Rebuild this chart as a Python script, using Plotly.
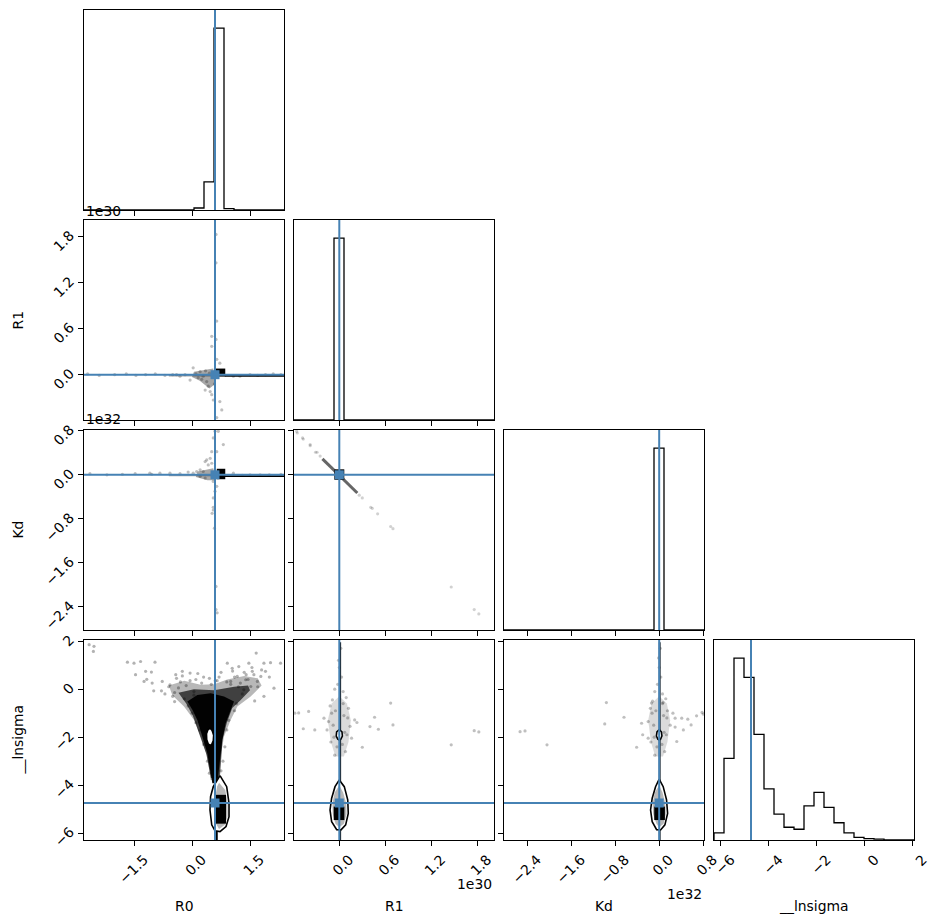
import numpy as np
import plotly.graph_objects as go

# ---------------- data (R1 in units of 1e30, Kd in units of 1e32) ----------------
PARAM_NAMES = ["R0", "R1", "Kd", "__lnsigma"]
RANGES = [[-2.793, 2.379], [-0.591, 2.018], [-2.822, 0.815], [-6.28, 2.045]]
TRUTHS = [0.595, 0.0, 0.0, -4.74]
TICK_VALS = [[-1.5, 0.0, 1.5], [0.0, 0.6, 1.2, 1.8], [-2.4, -1.6, -0.8, 0.0, 0.8], [-6, -4, -2, 0, 2]]
TICK_TEXT = [["−1.5", "0.0", "1.5"], ["0.0", "0.6", "1.2", "1.8"],
             ["−2.4", "−1.6", "−0.8", "0.0", "0.8"], ["−6", "−4", "−2", "0", "2"]]
OFFSET_TEXT = ["", "1e30", "1e32", ""]

# 1-D histogram counts (20 bins spanning each range)
HIST_R0 = [0, 0, 0, 0, 0, 0, 0, 0, 0, 0, 0, 60, 845, 5450, 44, 0, 0, 0, 0, 0]
HIST_R1 = [0, 0, 0, 12, 6370, 10, 3, 0, 0, 0, 0, 0, 0, 0, 0, 0, 0, 0, 0, 0]
HIST_KD = [0, 0, 0, 0, 0, 0, 0, 0, 0, 0, 0, 0, 0, 0, 14, 6380, 4, 0, 0, 0]
HIST_LN = [59, 667, 1485, 1329, 863, 417, 212, 104, 88, 278, 389, 267, 141, 59, 22, 12, 7, 0, 0, 0]
HISTS = [HIST_R0, HIST_R1, HIST_KD, HIST_LN]

# ---- panel R0 vs R1 ----
R0R1_PTS_X = [0.62, 0.62, 0.64, 0.51, 0.51, 0.64, 0.72, 0.03, 0.21, 0.29, -0.05, 0.16, 0.38, 0.34, 0.42,
              0.47, 0.51, 0.72, 0.77, 0.55, 0.64, 0.62, -0.31, -0.40, -0.18, 1.07, 1.24,
              -2.7, -2.4, -2.0, -1.7, -1.45, -1.2, -0.95, -0.7, -0.5, 1.5, 1.7, 1.9, 2.1, 2.3,
              0.45, 0.25, 0.10, 0.58, 0.35]
R0R1_PTS_Y = [1.83, 1.46, 0.70, 0.50, 0.37, 0.20, 0.15, 0.09, 0.04, -0.02, -0.07, -0.04, -0.09, -0.20, -0.15,
              -0.22, -0.26, -0.35, -0.46, -0.33, -0.56, 0.46, -0.02, 0.0, 0.0, -0.02, -0.02,
              0.01, -0.01, 0.0, 0.01, -0.01, 0.0, 0.01, -0.01, 0.0, 0.0, -0.01, 0.0, 0.01, 0.0,
              0.02, -0.06, 0.01, -0.12, 0.05]
R0R1_HALO_X = [0.05, 0.55, 0.60, 0.45, 0.20, 0.0]
R0R1_HALO_Y = [0.04, 0.08, -0.12, -0.18, -0.08, -0.03]
R0R1_CELL_X = [0.60, 0.86, 0.86, 0.60]
R0R1_CELL_Y = [-0.025, -0.025, 0.08, 0.08]
R0R1_LINE_X = [0.85, 2.38]
R0R1_LINE_Y = [-0.015, -0.015]

# ---- panel R0 vs Kd ----
R0KD_PTS_X = [0.595, 0.68, 0.55, 0.81, 0.51, 0.64, 0.47, 0.38, 0.51, 0.42, 0.34, 0.21, 0.12, 0.29, 0.03,
              0.21, 0.34, 0.55, 0.64, 0.595, 0.55, 0.55, 0.52, 0.55, 0.58, 0.62, 0.62, 0.65,
              -1.09, -0.83, -0.57, -0.31, -0.10, 1.07, 1.76, -2.64, -1.47, -1.04, -2.2, -1.8,
              1.3, 1.5, 2.0, 2.3]
R0KD_PTS_Y = [0.79, 0.79, 0.67, 0.55, 0.42, 0.42, 0.30, 0.27, 0.21, 0.18, 0.24, 0.09, 0.06, 0.06, 0.03,
              -0.03, -0.06, -0.12, -0.21, -0.30, -0.42, -0.59, -0.70, -0.64, -0.97, -2.03, -2.45, -2.51,
              0.03, 0.03, 0.03, 0.02, 0.05, 0.03, 0.0, 0.02, 0.02, 0.01, 0.0, 0.01,
              -0.01, 0.0, 0.0, 0.01]
R0KD_HALO_X = [0.15, 0.55, 0.62, 0.40, 0.10]
R0KD_HALO_Y = [0.06, 0.12, -0.10, -0.10, -0.04]
R0KD_CELL_X = [0.64, 0.86, 0.86, 0.64]
R0KD_CELL_Y = [-0.08, -0.08, 0.11, 0.11]
R0KD_LINE_X = [0.85, 2.38]
R0KD_LINE_Y = [-0.025, -0.025]

# ---- panel R1 vs Kd ----
R1KD_PTS_X = [-0.556, -0.548, -0.48, -0.47, -0.38, -0.38, -0.31, -0.29, 0.30, 0.41, 0.43, 0.50, 0.67, 0.70,
              1.46, 1.76, 1.82, -0.25, 0.26]
R1KD_PTS_Y = [0.79, 0.76, 0.67, 0.65, 0.53, 0.55, 0.41, 0.41, -0.42, -0.59, -0.61, -0.71, -0.94, -0.98,
              -2.04, -2.45, -2.53, 0.34, -0.37]
R1KD_LINE_X = [-0.22, 0.235]
R1KD_LINE_Y = [0.29, -0.33]
R1KD_CELL_X = [-0.065, 0.065, 0.065, -0.065]
R1KD_CELL_Y = [-0.09, -0.09, 0.10, 0.10]

# ---- panel R0 vs lnsigma ----
R0LN_PTS_X = [-2.66, -2.55, -2.535, -1.67, -1.50, -1.33, -0.957, -1.46, -1.20, -1.05, -1.17, -1.24, -1.03,
              -0.99, -0.79, -0.77, -0.57, -0.45, -0.42, -0.25, -0.05, 0.05, -0.45, 0.913, 1.04, 1.21,
              1.47, 1.66, 1.86, 2.03, 2.29, 1.90, 1.78, 1.56, 2.12, 1.86, 1.62, 1.39, 1.17, 1.00,
              1.69, 1.52, 1.34,
              -0.60, -0.50, -0.30, -0.20, 0.10, 0.30, 0.50, 0.70, 0.90, 1.10, 1.20, 1.30, 1.40, 1.60,
              1.70, 1.80, 2.00, 1.15, 1.10, -0.10, 0.00, 0.10, 0.95, 0.90, 0.20, 0.30, 0.85, 0.40,
              0.80, 0.45, 0.75, -0.35, -0.15, 0.25, 0.65, 1.25, 1.45, -0.70, -0.05, 0.05,
              -0.25, 0.15, 0.45, 0.75, 1.05, 1.35, 1.55, -0.40, 1.00, 0.60]
R0LN_PTS_Y = [1.85, 1.57, 1.78, 1.12, 1.08, 1.15, 1.12, 0.60, 0.74, 0.71, 0.41, 0.32, 0.25,
              -0.07, -0.07, 0.32, 0.18, -0.14, 0.60, 0.74, 0.67, -0.10, -0.52, 1.08, 0.87, 0.94,
              1.08, 1.50, 1.08, 1.10, 1.08, 0.74, 0.53, 0.74, 0.04, -0.30, -0.49, 0.39, 0.53, 0.32,
              0.32, 0.11, -0.03,
              0.10, -0.30, 0.30, -0.40, 0.40, 0.50, 0.20, 0.50, 0.30, 0.50, 0.10, -0.20, 0.60, 0.60,
              0.10, 0.80, 0.50, -0.60, -0.90, -0.70, -1.00, -1.40, -1.30, -1.70, -1.70, -2.30, -2.40, -3.00,
              -3.00, -3.50, -3.40, 0.05, 0.15, 0.25, 0.35, 0.25, 0.40, -0.20, 0.35, -0.25,
              0.55, 0.65, 0.45, 0.70, 0.75, 0.70, 0.90, 0.45, 0.20, 0.35]
R0LN_HALO_X = [-0.60, -0.20, 0.22, 0.57, 0.91, 1.35, 1.70, 1.80, 1.517, 1.172, 1.0, 0.828,
               0.741, 0.698, 0.483, 0.396, 0.224, 0.052, -0.207, -0.508]
R0LN_HALO_Y = [0.15, 0.35, 0.18, 0.20, 0.40, 0.55, 0.45, 0.15, -0.31, -0.72, -1.28, -1.97,
               -2.81, -3.78, -3.78, -2.81, -1.97, -1.28, -0.72, -0.25]
R0LN_MID_X = [-0.35, 0.05, 0.57, 1.09, 1.45, 1.50, 1.26, 1.04, 0.90, 0.79, 0.72, 0.49, 0.37, 0.20, 0.02, -0.15]
R0LN_MID_Y = [-0.15, 0.00, -0.05, 0.10, 0.15, -0.05, -0.45, -0.79, -1.40, -2.10, -3.70, -3.70, -2.70, -1.90, -1.10, -0.60]
R0LN_CORE_X = [-0.121, 0.138, 0.483, 0.828, 1.086, 0.999, 0.871, 0.784, 0.741, 0.698, 0.655, 0.526,
               0.466, 0.396, 0.267, 0.138, 0.009]
R0LN_CORE_Y = [-0.52, -0.24, -0.17, -0.31, -0.52, -0.86, -1.42, -2.11, -2.81, -3.50, -3.92, -3.92,
               -3.36, -2.67, -1.97, -1.28, -0.86]
R0LN_HOLE_X = [0.465, 0.52, 0.56, 0.55, 0.51, 0.465, 0.42, 0.38, 0.375, 0.41]
R0LN_HOLE_Y = [-1.62, -1.72, -1.92, -2.15, -2.30, -2.35, -2.28, -2.10, -1.86, -1.70]
R0LN_CONT_X = [0.724, 0.897, 0.957, 0.957, 0.88, 0.724, 0.595, 0.51, 0.465, 0.48, 0.55, 0.64]
R0LN_CONT_Y = [-3.60, -4.06, -4.75, -5.31, -5.72, -5.93, -5.90, -5.65, -5.03, -4.47, -4.06, -3.80]
R0LN_GREY_X = [0.70, 0.86, 0.92, 0.92, 0.85, 0.70, 0.62, 0.60, 0.61, 0.65]
R0LN_GREY_Y = [-3.90, -4.20, -4.75, -5.30, -5.65, -5.82, -5.60, -5.00, -4.40, -4.05]
R0LN_DARK_X = [0.62, 0.88, 0.88, 0.62]
R0LN_DARK_Y = [-4.40, -4.40, -5.60, -5.60]
R0LN_TAIL_X = [0.64, 0.64]
R0LN_TAIL_Y = [-5.90, -6.28]

# ---- panel R1 vs lnsigma ----
R1LN_PTS_X = [-0.58, -0.53, -0.40, -0.20, -0.32, -0.47, 0.23, 0.46, 0.51, 0.67, 0.70, 0.30, 1.46, 1.76,
              1.82, 0.40, 0.20, 0.16, -0.16, 0.02, -0.01, 0.0, 0.03, -0.02, 0.05, -0.06, 0.09, -0.09,
              0.12, -0.12, 0.10, -0.11, 0.08, -0.06, 0.14, -0.14,
              -0.05, 0.06, -0.08, 0.07, -0.03, 0.04, -0.10, 0.11, -0.07, 0.05]
R1LN_PTS_Y = [-1.00, -0.99, -0.93, -1.21, -1.70, -1.65, -1.39, -1.17, -1.67, -0.58, -1.49, -2.42, -2.32, -1.73,
              -1.78, -1.56, -1.28, -2.04, -1.70, 1.70, 1.20, 0.90, 0.50, 0.20, -0.10, 0.0, -0.35, -0.45,
              -0.80, -0.70, -1.90, -2.20, -2.60, -2.75, -1.55, -1.35,
              -0.90, -1.10, -1.50, -1.80, -2.40, -2.30, -1.00, -1.20, -2.00, -0.60]
R1LN_HALO_X = [-0.10, 0.0, 0.10, 0.15, 0.12, 0.06, -0.05, -0.11, -0.15]
R1LN_HALO_Y = [-0.6, -0.3, -0.6, -1.3, -2.2, -2.8, -2.8, -2.2, -1.3]
R1LN_LINE_X = [0.012, 0.012]
R1LN_LINE_Y = [1.95, -6.28]
R1LN_RING_X = [0.0, 0.035, 0.04, 0.02, 0.0, -0.02, -0.04, -0.035]
R1LN_RING_Y = [-1.68, -1.78, -1.95, -2.08, -2.12, -2.08, -1.95, -1.78]
R1LN_CONT_X = [0.0, 0.065, 0.11, 0.117, 0.083, 0.022, -0.034, -0.10, -0.121, -0.10, -0.056]
R1LN_CONT_Y = [-3.78, -4.06, -4.61, -5.17, -5.65, -5.86, -5.85, -5.52, -5.03, -4.54, -4.06]
R1LN_GREY_X = [0.0, 0.05, 0.09, 0.095, 0.06, 0.0, -0.05, -0.085, -0.09, -0.06]
R1LN_GREY_Y = [-4.00, -4.30, -4.75, -5.20, -5.60, -5.75, -5.60, -5.20, -4.75, -4.30]
R1LN_DARK_X = [-0.073, 0.066, 0.066, -0.073]
R1LN_DARK_Y = [-4.89, -4.89, -5.45, -5.45]

# ---- panel Kd vs lnsigma ----
KDLN_PTS_X = [-2.53, -2.44, -2.04, -0.96, -0.99, -0.64, -0.41, -0.32, -0.20, 0.29, 0.32, 0.44, 0.52, 0.68,
              0.78, 0.58, 0.07, -0.14, 0.02, -0.01, 0.0, 0.03, -0.03, 0.06, -0.08, 0.12, -0.12, 0.15,
              -0.16, 0.13, -0.15, 0.10, -0.08, 0.20, -0.20, 0.25, -0.30, 0.80, 0.41, 0.29,
              -0.06, 0.08, -0.10, 0.09, -0.04, 0.05, -0.13, 0.14, -0.09, 0.06]
KDLN_PTS_Y = [-1.77, -1.74, -2.32, -0.56, -1.45, -1.17, -2.42, -1.42, -2.04, -1.21, -2.18, -1.70, -1.25, -1.11,
              -0.97, -1.49, -0.56, -0.58, 1.70, 1.30, 0.90, 0.50, 0.20, -0.20, -0.10, -0.40, -0.50, -0.90,
              -0.80, -1.90, -2.20, -2.60, -2.75, -1.50, -1.35, -1.00, -1.90, -1.04, -1.21, -1.58,
              -0.90, -1.10, -1.50, -1.80, -2.40, -2.30, -1.00, -1.20, -2.00, -0.60]
KDLN_HALO_X = [-0.14, 0.0, 0.14, 0.20, 0.15, 0.07, -0.07, -0.15, -0.20]
KDLN_HALO_Y = [-0.6, -0.3, -0.6, -1.3, -2.2, -2.8, -2.8, -2.2, -1.3]
KDLN_LINE_X = [0.01, 0.01]
KDLN_LINE_Y = [1.95, -6.28]
KDLN_RING_X = [0.0, 0.04, 0.05, 0.025, 0.0, -0.025, -0.05, -0.04]
KDLN_RING_Y = [-1.68, -1.78, -1.95, -2.08, -2.12, -2.08, -1.95, -1.78]
KDLN_CONT_X = [0.0, 0.073, 0.134, 0.153, 0.104, 0.025, -0.047, -0.127, -0.157, -0.127, -0.066]
KDLN_CONT_Y = [-3.75, -4.06, -4.61, -5.17, -5.65, -5.86, -5.85, -5.52, -5.03, -4.54, -4.06]
KDLN_GREY_X = [0.0, 0.06, 0.11, 0.12, 0.08, 0.0, -0.05, -0.11, -0.12, -0.08]
KDLN_GREY_Y = [-4.00, -4.30, -4.75, -5.20, -5.60, -5.75, -5.60, -5.20, -4.75, -4.30]
KDLN_DARK_X = [-0.09, 0.104, 0.104, -0.09]
KDLN_DARK_Y = [-4.89, -4.89, -5.45, -5.45]

# ---------------- layout helpers ----------------
W, H = 931, 924
ML, MR, MT, MB = 84, 17, 10, 84
PW, PH = W - ML - MR, H - MT - MB
PANEL, GAP = 200, 10
BLUE = "#4682b4"
FONT = dict(family="DejaVu Sans", size=13.9, color="black")


def xdom(j):
    return [j * (PANEL + GAP) / PW, (j * (PANEL + GAP) + PANEL) / PW]


def ydom(i):
    return [1 - (i * (PANEL + GAP) + PANEL) / PH, 1 - i * (PANEL + GAP) / PH]


def paper_x(px):
    return (px - ML) / PW


def paper_y(py):
    return (H - MB - py) / PH


panel_list = [(i, j) for i in range(4) for j in range(i + 1)]
axn = {p: n + 1 for n, p in enumerate(panel_list)}


def refs(n):
    return ("x" if n == 1 else f"x{n}", "y" if n == 1 else f"y{n}")


fig = go.Figure()


def poly(n, xs, ys, fill, line_color="rgba(0,0,0,0)", line_width=0):
    xr, yr = refs(n)
    fig.add_trace(go.Scatter(x=list(xs) + [xs[0]], y=list(ys) + [ys[0]], mode="lines", fill="toself",
                             fillcolor=fill, line=dict(color=line_color, width=line_width),
                             xaxis=xr, yaxis=yr, hoverinfo="skip"))


def line(n, xs, ys, color, width):
    xr, yr = refs(n)
    fig.add_trace(go.Scatter(x=xs, y=ys, mode="lines", line=dict(color=color, width=width),
                             xaxis=xr, yaxis=yr, hoverinfo="skip"))


def pts(n, xs, ys, alpha=0.25):
    xr, yr = refs(n)
    fig.add_trace(go.Scatter(x=xs, y=ys, mode="markers",
                             marker=dict(size=3.2, color=f"rgba(0,0,0,{alpha})", line=dict(width=0)),
                             xaxis=xr, yaxis=yr, hoverinfo="skip"))


# ---------------- histograms ----------------
for k in range(4):
    n = axn[(k, k)]
    xr, yr = refs(n)
    edges = np.linspace(RANGES[k][0], RANGES[k][1], len(HISTS[k]) + 1)
    sx, sy = [edges[0]], [0]
    for b, c in enumerate(HISTS[k]):
        sx += [edges[b], edges[b + 1]]
        sy += [c, c]
    sx.append(edges[-1])
    sy.append(0)
    fig.add_trace(go.Scatter(x=sx, y=sy, mode="lines", line=dict(color="black", width=1.3),
                             xaxis=xr, yaxis=yr, hoverinfo="skip"))

# ---------------- 2-D panels ----------------
n = axn[(1, 0)]
poly(n, R0R1_HALO_X, R0R1_HALO_Y, "rgba(0,0,0,0.35)")
line(n, [-0.6, 0.6], [-0.01, -0.01], "rgba(0,0,0,0.35)", 2)
line(n, R0R1_LINE_X, R0R1_LINE_Y, "black", 1.8)
pts(n, R0R1_PTS_X, R0R1_PTS_Y)
poly(n, R0R1_CELL_X, R0R1_CELL_Y, "black")

n = axn[(2, 0)]
poly(n, R0KD_HALO_X, R0KD_HALO_Y, "rgba(0,0,0,0.35)")
line(n, [-0.6, 0.6], [-0.01, -0.01], "rgba(0,0,0,0.35)", 2)
line(n, R0KD_LINE_X, R0KD_LINE_Y, "black", 1.8)
pts(n, R0KD_PTS_X, R0KD_PTS_Y)
poly(n, R0KD_CELL_X, R0KD_CELL_Y, "black")

n = axn[(2, 1)]
line(n, R1KD_LINE_X, R1KD_LINE_Y, "rgba(0,0,0,0.6)", 3)
pts(n, R1KD_PTS_X, R1KD_PTS_Y, 0.18)
poly(n, R1KD_CELL_X, R1KD_CELL_Y, "black")

n = axn[(3, 0)]
poly(n, R0LN_HALO_X, R0LN_HALO_Y, "rgba(0,0,0,0.28)")
poly(n, R0LN_MID_X, R0LN_MID_Y, "rgba(0,0,0,0.65)")
poly(n, R0LN_CORE_X, R0LN_CORE_Y, "rgba(0,0,0,0.97)")
pts(n, R0LN_PTS_X, R0LN_PTS_Y, 0.3)
poly(n, R0LN_HOLE_X, R0LN_HOLE_Y, "white", "black", 1.6)
line(n, R0LN_TAIL_X, R0LN_TAIL_Y, "black", 2)
poly(n, R0LN_CONT_X, R0LN_CONT_Y, "white")
poly(n, R0LN_GREY_X, R0LN_GREY_Y, "#b8b8b8")
poly(n, R0LN_DARK_X, R0LN_DARK_Y, "black")
poly(n, R0LN_CONT_X, R0LN_CONT_Y, "rgba(0,0,0,0)", "black", 1.6)

for (i, j), P in [((3, 1), "R1LN"), ((3, 2), "KDLN")]:
    n = axn[(i, j)]
    g = globals()
    poly(n, g[P + "_HALO_X"], g[P + "_HALO_Y"], "rgba(0,0,0,0.14)")
    line(n, g[P + "_LINE_X"], g[P + "_LINE_Y"], "rgba(0,0,0,0.9)", 1.8)
    pts(n, g[P + "_PTS_X"], g[P + "_PTS_Y"], 0.25)
    poly(n, g[P + "_RING_X"], g[P + "_RING_Y"], "white", "black", 1.6)
    poly(n, g[P + "_CONT_X"], g[P + "_CONT_Y"], "white")
    poly(n, g[P + "_GREY_X"], g[P + "_GREY_Y"], "#b8b8b8")
    poly(n, g[P + "_DARK_X"], g[P + "_DARK_Y"], "black")
    poly(n, g[P + "_CONT_X"], g[P + "_CONT_Y"], "rgba(0,0,0,0)", "black", 1.6)

# ---------------- axes, truths ----------------
layout = dict(width=W, height=H, margin=dict(l=ML, r=MR, t=MT, b=MB), showlegend=False,
              plot_bgcolor="white", paper_bgcolor="white", hovermode=False, font=FONT)
shapes = []
for (i, j), n in axn.items():
    xr, yr = refs(n)
    xkey = "xaxis" if n == 1 else f"xaxis{n}"
    ykey = "yaxis" if n == 1 else f"yaxis{n}"
    common = dict(showline=True, mirror=True, linecolor="black", linewidth=1.1, showgrid=False,
                  zeroline=False, tickcolor="black", tickwidth=1.1, ticklen=5, tickfont=FONT,
                  fixedrange=True, automargin=False)
    layout[xkey] = dict(domain=xdom(j), anchor=yr, range=RANGES[j], tickvals=TICK_VALS[j],
                        ticktext=TICK_TEXT[j], showticklabels=(i == 3), ticks="outside",
                        tickangle=-45, ticklabelshift=10, **common)
    if i == j:
        layout[ykey] = dict(domain=ydom(i), anchor=xr, range=[0, 1.1 * max(HISTS[i])],
                            showticklabels=False, ticks="", **common)
    else:
        layout[ykey] = dict(domain=ydom(i), anchor=xr, range=RANGES[i], tickvals=TICK_VALS[i],
                            ticktext=TICK_TEXT[i], showticklabels=(j == 0), ticks="outside",
                            tickangle=-45, ticklabelshift=-3, ticklabelstandoff=5, **common)
    shapes.append(dict(type="line", xref=xr, yref=f"{yr} domain", x0=TRUTHS[j], x1=TRUTHS[j],
                       y0=0, y1=1, line=dict(color=BLUE, width=2)))
    if i != j:
        shapes.append(dict(type="line", xref=f"{xr} domain", yref=yr, x0=0, x1=1,
                           y0=TRUTHS[i], y1=TRUTHS[i], line=dict(color=BLUE, width=2)))
        fig.add_trace(go.Scatter(x=[TRUTHS[j]], y=[TRUTHS[i]], mode="markers",
                                 marker=dict(symbol="square", size=9, color=BLUE, line=dict(width=0)),
                                 xaxis=xr, yaxis=yr, hoverinfo="skip"))
layout["shapes"] = shapes

ann = []
for k, name in enumerate(PARAM_NAMES):
    cx = ML + k * (PANEL + GAP) + PANEL / 2
    ann.append(dict(text=name, x=paper_x(cx), y=paper_y(906), xref="paper", yref="paper",
                    xanchor="center", yanchor="middle", showarrow=False, font=FONT))
    if k > 0:
        cy = MT + k * (PANEL + GAP) + PANEL / 2
        ann.append(dict(text=name, x=paper_x(17.5), y=paper_y(cy), xref="paper", yref="paper",
                        xanchor="center", yanchor="middle", showarrow=False, font=FONT, textangle=-90))
# offset (scientific) texts
ann.append(dict(text=OFFSET_TEXT[1], x=paper_x(84), y=paper_y(211), xref="paper", yref="paper",
                xanchor="left", yanchor="middle", showarrow=False, font=FONT))
ann.append(dict(text=OFFSET_TEXT[2], x=paper_x(84), y=paper_y(419), xref="paper", yref="paper",
                xanchor="left", yanchor="middle", showarrow=False, font=FONT))
ann.append(dict(text=OFFSET_TEXT[1], x=paper_x(494), y=paper_y(884), xref="paper", yref="paper",
                xanchor="right", yanchor="middle", showarrow=False, font=FONT))
ann.append(dict(text=OFFSET_TEXT[2], x=paper_x(704), y=paper_y(894), xref="paper", yref="paper",
                xanchor="right", yanchor="middle", showarrow=False, font=FONT))
layout["annotations"] = ann

fig.update_layout(**layout)
fig.write_html("out.html")
